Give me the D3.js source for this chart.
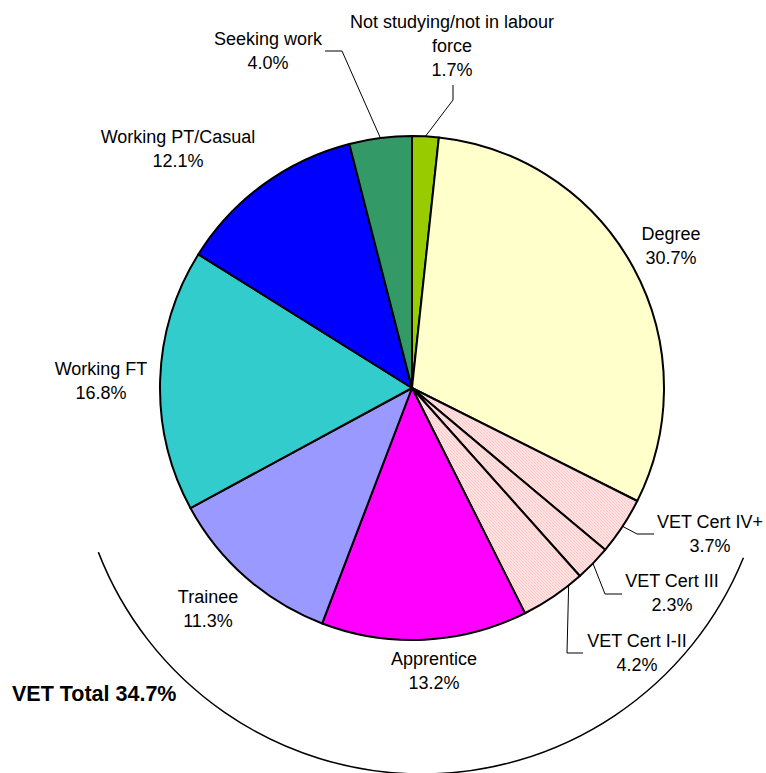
<!DOCTYPE html>
<html>
<head>
<meta charset="utf-8">
<script src="https://cdn.jsdelivr.net/npm/d3@7"></script>
<style>
  html, body { margin: 0; padding: 0; background: #fff; }
  svg { display: block; }
  .lbl { font-family: "Liberation Sans", Arial, sans-serif; font-size: 18px; fill: #000; }
</style>
</head>
<body>
<div id="chart"></div>
<script>
// Data, clockwise from 12 o'clock
const categories = ['Not studying/not in labour force', 'Degree', 'VET Cert IV+', 'VET Cert III',
  'VET Cert I-II', 'Apprentice', 'Trainee', 'Working FT', 'Working PT/Casual', 'Seeking work']
const shares = [1.7, 30.7, 3.7, 2.3, 4.2, 13.2, 11.3, 16.8, 12.1, 4.0]
const labelLines = [
  ['Not studying/not in labour', 'force'], ['Degree'], ['VET Cert IV+'], ['VET Cert III'],
  ['VET Cert I-II'], ['Apprentice'], ['Trainee'], ['Working FT'], ['Working PT/Casual'], ['Seeking work']
]
const vetGroup = ['VET Cert IV+', 'VET Cert III', 'VET Cert I-II', 'Apprentice', 'Trainee']
const vetLabel = 'VET Total'

// Layout
const width = 766, height = 773
const cx = 412, cy = 388, radius = 252
const lineH = 24

const colors = {
  'Not studying/not in labour force': '#99CC00',
  'Degree': '#FFFFCC',
  'VET Cert IV+': 'url(#pinkDots)',
  'VET Cert III': 'url(#pinkDots)',
  'VET Cert I-II': 'url(#pinkDots)',
  'Apprentice': '#FF00FF',
  'Trainee': '#9999FF',
  'Working FT': '#33CCCC',
  'Working PT/Casual': '#0000FF',
  'Seeking work': '#339966'
}

// label anchor (centre x, first baseline y) and leader elbows
const labelPos = {
  'Not studying/not in labour force': { x: 452, y: 28, leader: [[453, 100], [453, 85]] },
  'Degree': { x: 671, y: 240 },
  'VET Cert IV+': { x: 710, y: 528, leader: [[637, 534], [654, 534]] },
  'VET Cert III': { x: 672, y: 587, leader: [[605, 594], [622, 594]] },
  'VET Cert I-II': { x: 637, y: 647, leader: [[567, 653], [583, 653]], at: 0.22 },
  'Apprentice': { x: 434, y: 665 },
  'Trainee': { x: 208, y: 603 },
  'Working FT': { x: 101, y: 375 },
  'Working PT/Casual': { x: 178, y: 143 },
  'Seeking work': { x: 268, y: 45, leader: [[342, 51], [325, 51]] }
}

// bracket round the VET slices
const vetArc = { cx: 422, cy: 427, r: 347, padStart: 4.5, padEnd: 7.3 }

const data = categories.map((c, i) => ({ name: c, value: shares[i], lines: labelLines[i] }))

const svg = d3.select('#chart')
  .append('svg')
    .attr('width', width)
    .attr('height', height)

svg.append('rect').attr('width', width).attr('height', height).attr('fill', '#fff')

// pink dotted fill used by Excel for the VET cert slices
const pat = svg.append('defs').append('pattern')
  .attr('id', 'pinkDots')
  .attr('patternUnits', 'userSpaceOnUse')
  .attr('width', 3).attr('height', 3)
pat.append('rect').attr('width', 3).attr('height', 3).attr('fill', '#FFE2E2')
pat.append('rect').attr('x', 0).attr('y', 0).attr('width', 1).attr('height', 1).attr('fill', '#FFC4C4')
pat.append('rect').attr('x', 1).attr('y', 1).attr('width', 1).attr('height', 1).attr('fill', '#FFCFCF')
pat.append('rect').attr('x', 2).attr('y', 2).attr('width', 1).attr('height', 1).attr('fill', '#FFC4C4')

const pieMkr = d3.pie()
  .value(d => d.value)
  .sort(null)

const arcs = pieMkr(data)

const arcMkr = d3.arc()
  .innerRadius(0)
  .outerRadius(radius)

const g = svg.append('g')
  .attr('transform', `translate(${cx},${cy})`)

g.selectAll('.slice')
  .data(arcs)
  .enter().append('path')
    .classed('slice', true)
    .attr('d', arcMkr)
    .attr('fill', d => colors[d.data.name])
    .attr('stroke', '#000')
    .attr('stroke-width', 2)
    .attr('stroke-linejoin', 'round')

// leader lines: start on the pie rim, then elbows
const leaders = arcs.filter(d => labelPos[d.data.name].leader)
svg.selectAll('.leader')
  .data(leaders)
  .enter().append('path')
    .classed('leader', true)
    .attr('fill', 'none')
    .attr('stroke', '#000')
    .attr('stroke-width', 1)
    .attr('d', d => {
      const p = labelPos[d.data.name]
      const t = p.at == null ? 0.5 : p.at
      const a = d.startAngle + (d.endAngle - d.startAngle) * t
      const start = [cx + radius * Math.sin(a), cy - radius * Math.cos(a)]
      return d3.line()([start, ...p.leader])
    })

// slice labels
const labels = svg.selectAll('.lbl-group')
  .data(arcs)
  .enter().append('text')
    .classed('lbl', true)
    .attr('text-anchor', 'middle')

labels.each(function(d) {
  const p = labelPos[d.data.name]
  const el = d3.select(this)
  const lines = [...d.data.lines, d3.format('.1f')(d.data.value) + '%']
  lines.forEach((txt, i) => {
    el.append('tspan')
      .attr('x', p.x)
      .attr('y', p.y + i * lineH)
      .text(txt)
  })
})

// VET bracket arc
const vetArcs = arcs.filter(d => vetGroup.includes(d.data.name))
const a0 = d3.min(vetArcs, d => d.startAngle) - vetArc.padStart * Math.PI / 180
const a1 = d3.max(vetArcs, d => d.endAngle) + vetArc.padEnd * Math.PI / 180

svg.append('path')
  .attr('transform', `translate(${vetArc.cx},${vetArc.cy})`)
  .attr('d', d3.arc()
    .innerRadius(vetArc.r)
    .outerRadius(vetArc.r)
    .startAngle(a0)
    .endAngle(a1)())
  .attr('fill', 'none')
  .attr('stroke', '#000')
  .attr('stroke-width', 1.5)

const vetTotal = d3.sum(data.filter(d => vetGroup.includes(d.name)), d => d.value)

svg.append('text')
  .attr('x', 12)
  .attr('y', 701)
  .attr('font-family', '"Liberation Sans", Arial, sans-serif')
  .attr('font-size', 21.5)
  .attr('font-weight', 'bold')
  .text(`${vetLabel} ${d3.format('.1f')(vetTotal)}%`)
</script>
</body>
</html>
